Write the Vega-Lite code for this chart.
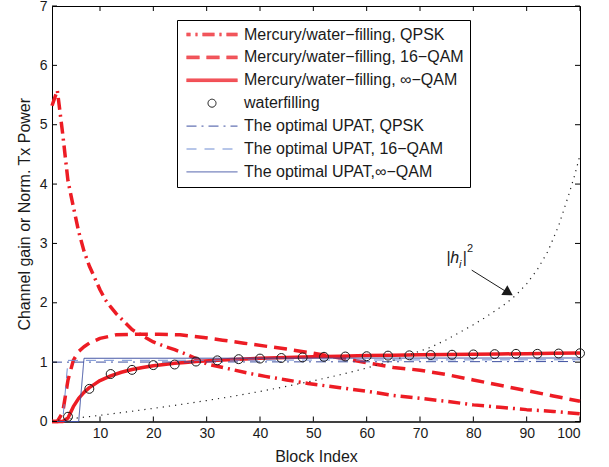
{
  "$schema": "https://vega.github.io/schema/vega-lite/v6.json",
  "width": 528,
  "height": 415.5,
  "autosize": {"type": "none"},
  "padding": {"left": 52, "top": 6, "right": 29, "bottom": 45.5},
  "background": "white",
  "config": {
    "font": "Liberation Sans",
    "view": {"stroke": "#000", "strokeWidth": 1},
    "axis": {
      "grid": false,
      "ticks": false,
      "domain": true,
      "domainColor": "#000",
      "labelFont": "Liberation Sans",
      "labelFontSize": 14,
      "labelColor": "#1a1a1a",
      "titleFont": "Liberation Sans",
      "titleFontSize": 16,
      "titleFontWeight": "normal",
      "titleColor": "#1a1a1a"
    },
    "legend": {
      "labelFont": "Liberation Sans",
      "labelFontSize": 16,
      "labelColor": "#1a1a1a",
      "labelLimit": 0,
      "symbolSize": 2601,
      "symbolStrokeWidth": 1,
      "symbolFillColor": "transparent",
      "symbolOpacity": 1,
      "symbolOffset": 3,
      "labelOffset": 6,
      "clipHeight": 17,
      "rowPadding": 5.9,
      "padding": 6,
      "strokeColor": "#000",
      "fillColor": "#fff",
      "cornerRadius": 0
    }
  },
  "datasets": {
    "curves": [
      {"s": "Mercury/water−filling, QPSK", "x": 1, "y": 5.32},
      {"s": "Mercury/water−filling, QPSK", "x": 2, "y": 5.58},
      {"s": "Mercury/water−filling, QPSK", "x": 3, "y": 4.85},
      {"s": "Mercury/water−filling, QPSK", "x": 4, "y": 4.05},
      {"s": "Mercury/water−filling, QPSK", "x": 5, "y": 3.62},
      {"s": "Mercury/water−filling, QPSK", "x": 6, "y": 3.2},
      {"s": "Mercury/water−filling, QPSK", "x": 7, "y": 2.87},
      {"s": "Mercury/water−filling, QPSK", "x": 8, "y": 2.62},
      {"s": "Mercury/water−filling, QPSK", "x": 9, "y": 2.42},
      {"s": "Mercury/water−filling, QPSK", "x": 10, "y": 2.22},
      {"s": "Mercury/water−filling, QPSK", "x": 11, "y": 2.05},
      {"s": "Mercury/water−filling, QPSK", "x": 12, "y": 1.93},
      {"s": "Mercury/water−filling, QPSK", "x": 13, "y": 1.82},
      {"s": "Mercury/water−filling, QPSK", "x": 14, "y": 1.73},
      {"s": "Mercury/water−filling, QPSK", "x": 16, "y": 1.55},
      {"s": "Mercury/water−filling, QPSK", "x": 18, "y": 1.44},
      {"s": "Mercury/water−filling, QPSK", "x": 20, "y": 1.34},
      {"s": "Mercury/water−filling, QPSK", "x": 22, "y": 1.27},
      {"s": "Mercury/water−filling, QPSK", "x": 24, "y": 1.21},
      {"s": "Mercury/water−filling, QPSK", "x": 26, "y": 1.14},
      {"s": "Mercury/water−filling, QPSK", "x": 28, "y": 1.06},
      {"s": "Mercury/water−filling, QPSK", "x": 30, "y": 0.97},
      {"s": "Mercury/water−filling, QPSK", "x": 32, "y": 0.93},
      {"s": "Mercury/water−filling, QPSK", "x": 35, "y": 0.87},
      {"s": "Mercury/water−filling, QPSK", "x": 38, "y": 0.81},
      {"s": "Mercury/water−filling, QPSK", "x": 41, "y": 0.76},
      {"s": "Mercury/water−filling, QPSK", "x": 45, "y": 0.7},
      {"s": "Mercury/water−filling, QPSK", "x": 49, "y": 0.64},
      {"s": "Mercury/water−filling, QPSK", "x": 55, "y": 0.57},
      {"s": "Mercury/water−filling, QPSK", "x": 60, "y": 0.51},
      {"s": "Mercury/water−filling, QPSK", "x": 65, "y": 0.44},
      {"s": "Mercury/water−filling, QPSK", "x": 70, "y": 0.39},
      {"s": "Mercury/water−filling, QPSK", "x": 75, "y": 0.34},
      {"s": "Mercury/water−filling, QPSK", "x": 80, "y": 0.28},
      {"s": "Mercury/water−filling, QPSK", "x": 85, "y": 0.24},
      {"s": "Mercury/water−filling, QPSK", "x": 90, "y": 0.2},
      {"s": "Mercury/water−filling, QPSK", "x": 95, "y": 0.17},
      {"s": "Mercury/water−filling, QPSK", "x": 100, "y": 0.13},

      {"s": "Mercury/water−filling, 16−QAM", "x": 1, "y": 0},
      {"s": "Mercury/water−filling, 16−QAM", "x": 2, "y": 0},
      {"s": "Mercury/water−filling, 16−QAM", "x": 3, "y": 0.15},
      {"s": "Mercury/water−filling, 16−QAM", "x": 4, "y": 0.7},
      {"s": "Mercury/water−filling, 16−QAM", "x": 5, "y": 1.03},
      {"s": "Mercury/water−filling, 16−QAM", "x": 6, "y": 1.18},
      {"s": "Mercury/water−filling, 16−QAM", "x": 7, "y": 1.26},
      {"s": "Mercury/water−filling, 16−QAM", "x": 8, "y": 1.32},
      {"s": "Mercury/water−filling, 16−QAM", "x": 10, "y": 1.4},
      {"s": "Mercury/water−filling, 16−QAM", "x": 13, "y": 1.46},
      {"s": "Mercury/water−filling, 16−QAM", "x": 17, "y": 1.47},
      {"s": "Mercury/water−filling, 16−QAM", "x": 21, "y": 1.47},
      {"s": "Mercury/water−filling, 16−QAM", "x": 25, "y": 1.46},
      {"s": "Mercury/water−filling, 16−QAM", "x": 29, "y": 1.42},
      {"s": "Mercury/water−filling, 16−QAM", "x": 33, "y": 1.37},
      {"s": "Mercury/water−filling, 16−QAM", "x": 37, "y": 1.32},
      {"s": "Mercury/water−filling, 16−QAM", "x": 41, "y": 1.27},
      {"s": "Mercury/water−filling, 16−QAM", "x": 45, "y": 1.22},
      {"s": "Mercury/water−filling, 16−QAM", "x": 50, "y": 1.15},
      {"s": "Mercury/water−filling, 16−QAM", "x": 55, "y": 1.07},
      {"s": "Mercury/water−filling, 16−QAM", "x": 60, "y": 0.99},
      {"s": "Mercury/water−filling, 16−QAM", "x": 65, "y": 0.91},
      {"s": "Mercury/water−filling, 16−QAM", "x": 70, "y": 0.865},
      {"s": "Mercury/water−filling, 16−QAM", "x": 75, "y": 0.79},
      {"s": "Mercury/water−filling, 16−QAM", "x": 80, "y": 0.7},
      {"s": "Mercury/water−filling, 16−QAM", "x": 85, "y": 0.61},
      {"s": "Mercury/water−filling, 16−QAM", "x": 90, "y": 0.52},
      {"s": "Mercury/water−filling, 16−QAM", "x": 95, "y": 0.43},
      {"s": "Mercury/water−filling, 16−QAM", "x": 100, "y": 0.34},

      {"s": "Mercury/water−filling, ∞−QAM", "x": 1, "y": 0},
      {"s": "Mercury/water−filling, ∞−QAM", "x": 2, "y": 0},
      {"s": "Mercury/water−filling, ∞−QAM", "x": 3, "y": 0},
      {"s": "Mercury/water−filling, ∞−QAM", "x": 4, "y": 0.06},
      {"s": "Mercury/water−filling, ∞−QAM", "x": 5, "y": 0.25},
      {"s": "Mercury/water−filling, ∞−QAM", "x": 6, "y": 0.39},
      {"s": "Mercury/water−filling, ∞−QAM", "x": 7, "y": 0.49},
      {"s": "Mercury/water−filling, ∞−QAM", "x": 8, "y": 0.57},
      {"s": "Mercury/water−filling, ∞−QAM", "x": 9, "y": 0.63},
      {"s": "Mercury/water−filling, ∞−QAM", "x": 10, "y": 0.69},
      {"s": "Mercury/water−filling, ∞−QAM", "x": 12, "y": 0.77},
      {"s": "Mercury/water−filling, ∞−QAM", "x": 14, "y": 0.83},
      {"s": "Mercury/water−filling, ∞−QAM", "x": 16, "y": 0.875},
      {"s": "Mercury/water−filling, ∞−QAM", "x": 18, "y": 0.91},
      {"s": "Mercury/water−filling, ∞−QAM", "x": 20, "y": 0.94},
      {"s": "Mercury/water−filling, ∞−QAM", "x": 22, "y": 0.96},
      {"s": "Mercury/water−filling, ∞−QAM", "x": 24, "y": 0.98},
      {"s": "Mercury/water−filling, ∞−QAM", "x": 26, "y": 0.995},
      {"s": "Mercury/water−filling, ∞−QAM", "x": 28, "y": 1.01},
      {"s": "Mercury/water−filling, ∞−QAM", "x": 32, "y": 1.03},
      {"s": "Mercury/water−filling, ∞−QAM", "x": 36, "y": 1.05},
      {"s": "Mercury/water−filling, ∞−QAM", "x": 40, "y": 1.065},
      {"s": "Mercury/water−filling, ∞−QAM", "x": 45, "y": 1.08},
      {"s": "Mercury/water−filling, ∞−QAM", "x": 50, "y": 1.09},
      {"s": "Mercury/water−filling, ∞−QAM", "x": 55, "y": 1.1},
      {"s": "Mercury/water−filling, ∞−QAM", "x": 60, "y": 1.11},
      {"s": "Mercury/water−filling, ∞−QAM", "x": 65, "y": 1.117},
      {"s": "Mercury/water−filling, ∞−QAM", "x": 70, "y": 1.123},
      {"s": "Mercury/water−filling, ∞−QAM", "x": 75, "y": 1.128},
      {"s": "Mercury/water−filling, ∞−QAM", "x": 80, "y": 1.133},
      {"s": "Mercury/water−filling, ∞−QAM", "x": 85, "y": 1.138},
      {"s": "Mercury/water−filling, ∞−QAM", "x": 90, "y": 1.142},
      {"s": "Mercury/water−filling, ∞−QAM", "x": 95, "y": 1.148},
      {"s": "Mercury/water−filling, ∞−QAM", "x": 100, "y": 1.155},

      {"s": "waterfilling", "x": 4, "y": 0.08},
      {"s": "waterfilling", "x": 8, "y": 0.55},
      {"s": "waterfilling", "x": 12, "y": 0.8},
      {"s": "waterfilling", "x": 16, "y": 0.87},
      {"s": "waterfilling", "x": 20, "y": 0.95},
      {"s": "waterfilling", "x": 24, "y": 0.96},
      {"s": "waterfilling", "x": 28, "y": 1.01},
      {"s": "waterfilling", "x": 32, "y": 1.03},
      {"s": "waterfilling", "x": 36, "y": 1.05},
      {"s": "waterfilling", "x": 40, "y": 1.06},
      {"s": "waterfilling", "x": 44, "y": 1.07},
      {"s": "waterfilling", "x": 48, "y": 1.08},
      {"s": "waterfilling", "x": 52, "y": 1.09},
      {"s": "waterfilling", "x": 56, "y": 1.095},
      {"s": "waterfilling", "x": 60, "y": 1.1},
      {"s": "waterfilling", "x": 64, "y": 1.11},
      {"s": "waterfilling", "x": 68, "y": 1.115},
      {"s": "waterfilling", "x": 72, "y": 1.12},
      {"s": "waterfilling", "x": 76, "y": 1.125},
      {"s": "waterfilling", "x": 80, "y": 1.13},
      {"s": "waterfilling", "x": 84, "y": 1.135},
      {"s": "waterfilling", "x": 88, "y": 1.14},
      {"s": "waterfilling", "x": 92, "y": 1.14},
      {"s": "waterfilling", "x": 96, "y": 1.145},
      {"s": "waterfilling", "x": 100, "y": 1.15},

      {"s": "The optimal UPAT, QPSK", "x": 1, "y": 1.0},
      {"s": "The optimal UPAT, QPSK", "x": 100, "y": 1.01},

      {"s": "The optimal UPAT, 16−QAM", "x": 1, "y": 0},
      {"s": "The optimal UPAT, 16−QAM", "x": 3, "y": 0},
      {"s": "The optimal UPAT, 16−QAM", "x": 4, "y": 1.03},
      {"s": "The optimal UPAT, 16−QAM", "x": 100, "y": 1.04},

      {"s": "The optimal UPAT,∞−QAM", "x": 1, "y": 0},
      {"s": "The optimal UPAT,∞−QAM", "x": 6, "y": 0},
      {"s": "The optimal UPAT,∞−QAM", "x": 7, "y": 1.065},
      {"s": "The optimal UPAT,∞−QAM", "x": 100, "y": 1.07},

      {"s": "h2", "x": 1, "y": 0.01},
      {"s": "h2", "x": 3, "y": 0.03},
      {"s": "h2", "x": 5, "y": 0.051},
      {"s": "h2", "x": 8, "y": 0.083},
      {"s": "h2", "x": 10, "y": 0.104},
      {"s": "h2", "x": 15, "y": 0.161},
      {"s": "h2", "x": 20, "y": 0.221},
      {"s": "h2", "x": 25, "y": 0.285},
      {"s": "h2", "x": 30, "y": 0.353},
      {"s": "h2", "x": 35, "y": 0.426},
      {"s": "h2", "x": 40, "y": 0.506},
      {"s": "h2", "x": 45, "y": 0.592},
      {"s": "h2", "x": 50, "y": 0.685},
      {"s": "h2", "x": 55, "y": 0.787},
      {"s": "h2", "x": 60, "y": 0.901},
      {"s": "h2", "x": 65, "y": 1.029},
      {"s": "h2", "x": 70, "y": 1.187},
      {"s": "h2", "x": 72, "y": 1.25},
      {"s": "h2", "x": 75, "y": 1.38},
      {"s": "h2", "x": 78, "y": 1.53},
      {"s": "h2", "x": 80, "y": 1.63},
      {"s": "h2", "x": 82, "y": 1.74},
      {"s": "h2", "x": 84, "y": 1.86},
      {"s": "h2", "x": 86, "y": 1.98},
      {"s": "h2", "x": 88, "y": 2.13},
      {"s": "h2", "x": 90, "y": 2.32},
      {"s": "h2", "x": 92, "y": 2.56},
      {"s": "h2", "x": 94, "y": 2.87},
      {"s": "h2", "x": 96, "y": 3.3},
      {"s": "h2", "x": 98, "y": 3.85},
      {"s": "h2", "x": 99, "y": 4.15},
      {"s": "h2", "x": 100, "y": 4.49}
    ],
    "xticks": [
      {"x": 10, "y": 0}, {"x": 20, "y": 0}, {"x": 30, "y": 0}, {"x": 40, "y": 0}, {"x": 50, "y": 0},
      {"x": 60, "y": 0}, {"x": 70, "y": 0}, {"x": 80, "y": 0}, {"x": 90, "y": 0}, {"x": 100, "y": 0},
      {"x": 10, "y": 7}, {"x": 20, "y": 7}, {"x": 30, "y": 7}, {"x": 40, "y": 7}, {"x": 50, "y": 7},
      {"x": 60, "y": 7}, {"x": 70, "y": 7}, {"x": 80, "y": 7}, {"x": 90, "y": 7}, {"x": 100, "y": 7}
    ],
    "yticks": [
      {"x": 1, "y": 0}, {"x": 1, "y": 1}, {"x": 1, "y": 2}, {"x": 1, "y": 3}, {"x": 1, "y": 4}, {"x": 1, "y": 5}, {"x": 1, "y": 6}, {"x": 1, "y": 7},
      {"x": 100, "y": 0}, {"x": 100, "y": 1}, {"x": 100, "y": 2}, {"x": 100, "y": 3}, {"x": 100, "y": 4}, {"x": 100, "y": 5}, {"x": 100, "y": 6}, {"x": 100, "y": 7}
    ],
    "arrow": [{"x": 79.7, "y": 2.55, "x2": 86.3, "y2": 2.18}],
    "head": [{"x": 86.6, "y": 2.17}],
    "lblMain": [{"t": "|h", "x": 74.9, "y": 2.67}, {"t": "|", "x": 77.95, "y": 2.67}],
    "lblSub": [{"t": "i", "x": 77.3, "y": 2.59}],
    "lblSup": [{"t": "2", "x": 78.8, "y": 2.85}]
  },
  "data": {"name": "curves"},
  "encoding": {
    "x": {"field": "x", "type": "quantitative", "scale": {"domain": [1, 100], "nice": false, "zero": false},
          "axis": {"orient": "bottom", "values": [10, 20, 30, 40, 50, 60, 70, 80, 90, 100], "title": "Block Index", "labelPadding": 5, "titlePadding": 8}},
    "y": {"field": "y", "type": "quantitative", "scale": {"domain": [0, 7], "nice": false, "zero": false},
          "axis": {"orient": "left", "values": [0, 1, 2, 3, 4, 5, 6, 7], "title": "Channel gain or Norm. Tx Power", "labelPadding": 5, "titlePadding": 7}}
  },
  "layer": [
    {
      "transform": [{"filter": {"field": "s", "equal": "Mercury/water−filling, QPSK"}}],
      "mark": {"type": "line", "color": "#ed1c24", "strokeWidth": 3.5, "strokeCap": "butt", "strokeJoin": "round", "strokeDash": [12, 5, 2, 5]}
    },
    {
      "transform": [{"filter": {"field": "s", "equal": "Mercury/water−filling, 16−QAM"}}],
      "mark": {"type": "line", "color": "#ed1c24", "strokeWidth": 3.5, "strokeCap": "butt", "strokeJoin": "round", "strokeDash": [13, 7]}
    },
    {
      "transform": [{"filter": {"field": "s", "equal": "Mercury/water−filling, ∞−QAM"}}],
      "mark": {"type": "line", "color": "#ed1c24", "strokeWidth": 3.5, "strokeCap": "butt", "strokeJoin": "round"}
    },
    {
      "transform": [{"filter": {"field": "s", "oneOf": ["The optimal UPAT, QPSK", "The optimal UPAT, 16−QAM", "The optimal UPAT,∞−QAM"]}}],
      "mark": {"type": "line", "strokeWidth": 1, "strokeCap": "butt"},
      "encoding": {
        "color": {
          "field": "s", "type": "nominal",
          "scale": {
            "domain": ["Mercury/water−filling, QPSK", "Mercury/water−filling, 16−QAM", "Mercury/water−filling, ∞−QAM", "waterfilling", "The optimal UPAT, QPSK", "The optimal UPAT, 16−QAM", "The optimal UPAT,∞−QAM"],
            "range": ["#ed1c24", "#ed1c24", "#ed1c24", "#1a1a1a", "#3d4fa1", "#6f8cd2", "#3d4fa1"]
          },
          "legend": {"orient": "none", "legendX": 125, "legendY": 14, "title": null}
        },
        "strokeDash": {
          "field": "s", "type": "nominal",
          "scale": {
            "domain": ["Mercury/water−filling, QPSK", "Mercury/water−filling, 16−QAM", "Mercury/water−filling, ∞−QAM", "waterfilling", "The optimal UPAT, QPSK", "The optimal UPAT, 16−QAM", "The optimal UPAT,∞−QAM"],
            "range": [[1, 0], [1, 0], [1, 0], [1, 0], [10, 5, 2, 5], [10, 8], [1, 0]]
          },
          "legend": {"orient": "none", "legendX": 125, "legendY": 14, "title": null}
        }
      }
    },
    {
      "transform": [{"filter": {"field": "s", "equal": "waterfilling"}}],
      "mark": {"type": "point", "filled": false, "size": 80, "strokeWidth": 1, "opacity": 1},
      "encoding": {
        "color": {
          "field": "s", "type": "nominal",
          "scale": {
            "domain": ["Mercury/water−filling, QPSK", "Mercury/water−filling, 16−QAM", "Mercury/water−filling, ∞−QAM", "waterfilling", "The optimal UPAT, QPSK", "The optimal UPAT, 16−QAM", "The optimal UPAT,∞−QAM"],
            "range": ["#ed1c24", "#ed1c24", "#ed1c24", "#1a1a1a", "#3d4fa1", "#6f8cd2", "#3d4fa1"]
          },
          "legend": {"orient": "none", "legendX": 125, "legendY": 14, "title": null}
        }
      }
    },
    {
      "transform": [{"filter": {"field": "s", "equal": "none"}}],
      "mark": {"type": "point", "filled": false, "strokeWidth": 1},
      "encoding": {
        "shape": {
          "field": "s", "type": "nominal",
          "scale": {
            "domain": ["Mercury/water−filling, QPSK", "Mercury/water−filling, 16−QAM", "Mercury/water−filling, ∞−QAM", "waterfilling", "The optimal UPAT, QPSK", "The optimal UPAT, 16−QAM", "The optimal UPAT,∞−QAM"],
            "range": [
              "M-1,-0.05H-0.843M-1,-0.017H-0.843M-1,0.017H-0.843M-1,0.05H-0.843M-0.647,-0.05H-0.569M-0.647,-0.017H-0.569M-0.647,0.017H-0.569M-0.647,0.05H-0.569M-0.373,-0.05H0.098M-0.373,-0.017H0.098M-0.373,0.017H0.098M-0.373,0.05H0.098M0.294,-0.05H0.373M0.294,-0.017H0.373M0.294,0.017H0.373M0.294,0.05H0.373M0.569,-0.05H1M0.569,-0.017H1M0.569,0.017H1M0.569,0.05H1",
              "M-1,-0.05H-0.49M-1,-0.017H-0.49M-1,0.017H-0.49M-1,0.05H-0.49M-0.216,-0.05H0.294M-0.216,-0.017H0.294M-0.216,0.017H0.294M-0.216,0.05H0.294M0.569,-0.05H1M0.569,-0.017H1M0.569,0.017H1M0.569,0.05H1",
              "M-1,-0.05H1M-1,-0.017H1M-1,0.017H1M-1,0.05H1",
              "M-0.157,0A0.157,0.157 0 1,0 0.157,0A0.157,0.157 0 1,0 -0.157,0Z",
              "stroke",
              "stroke",
              "stroke"
            ]
          },
          "legend": {"orient": "none", "legendX": 125, "legendY": 14, "title": null}
        }
      }
    },
    {
      "transform": [{"filter": {"field": "s", "equal": "h2"}}],
      "mark": {"type": "line", "color": "#222", "strokeWidth": 1.2, "strokeDash": [1.2, 5]}
    },
    {
      "data": {"name": "xticks"},
      "transform": [{"filter": "datum.y == 0"}],
      "mark": {"type": "tick", "orient": "vertical", "size": 5, "thickness": 1, "color": "#000", "opacity": 1, "yOffset": -2.5}
    },
    {
      "data": {"name": "xticks"},
      "transform": [{"filter": "datum.y == 7"}],
      "mark": {"type": "tick", "orient": "vertical", "size": 5, "thickness": 1, "color": "#000", "opacity": 1, "yOffset": 2.5}
    },
    {
      "data": {"name": "yticks"},
      "transform": [{"filter": "datum.x == 1"}],
      "mark": {"type": "tick", "orient": "horizontal", "size": 5, "thickness": 1, "color": "#000", "opacity": 1, "xOffset": 2.5}
    },
    {
      "data": {"name": "yticks"},
      "transform": [{"filter": "datum.x == 100"}],
      "mark": {"type": "tick", "orient": "horizontal", "size": 5, "thickness": 1, "color": "#000", "opacity": 1, "xOffset": -2.5}
    },
    {
      "data": {"name": "arrow"},
      "mark": {"type": "rule", "color": "#1a1a1a", "strokeWidth": 1},
      "encoding": {
        "x2": {"field": "x2"},
        "y2": {"field": "y2"}
      }
    },
    {
      "data": {"name": "head"},
      "mark": {"type": "point", "shape": "triangle-right", "filled": true, "color": "#1a1a1a", "size": 130, "angle": 32, "opacity": 1}
    },
    {
      "data": {"name": "lblMain"},
      "mark": {"type": "text", "align": "left", "baseline": "alphabetic", "fontSize": 16, "fontStyle": "italic", "color": "#1a1a1a", "font": "Liberation Sans"},
      "encoding": {"text": {"field": "t"}}
    },
    {
      "data": {"name": "lblSub"},
      "mark": {"type": "text", "align": "left", "baseline": "alphabetic", "fontSize": 11, "fontStyle": "italic", "color": "#1a1a1a", "font": "Liberation Sans"},
      "encoding": {"text": {"field": "t"}}
    },
    {
      "data": {"name": "lblSup"},
      "mark": {"type": "text", "align": "left", "baseline": "alphabetic", "fontSize": 11, "color": "#1a1a1a", "font": "Liberation Sans"},
      "encoding": {"text": {"field": "t"}}
    }
  ]
}
